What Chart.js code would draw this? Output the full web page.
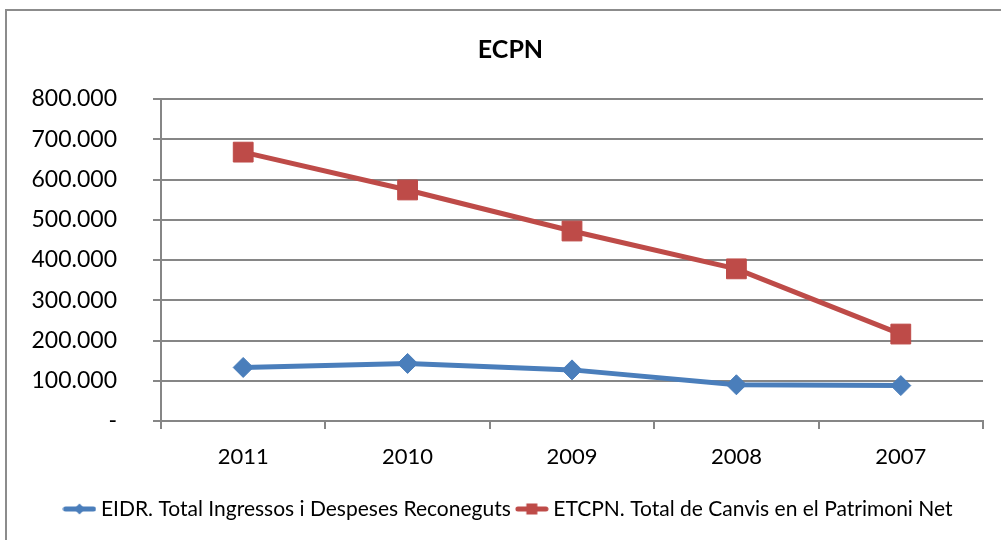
<!DOCTYPE html>
<html>
<head>
<meta charset="utf-8">
<script src="https://cdn.jsdelivr.net/npm/chart.js@4.4.1/dist/chart.umd.min.js"></script>
<style>
html,body{margin:0;padding:0;background:#fff;}
#wrap{position:relative;width:1001px;height:540px;}
</style>
</head>
<body>
<div id="wrap"><canvas id="c" width="1001" height="540"></canvas></div>
<script>
const categories = ['2011', '2010', '2009', '2008', '2007'];
const eidrValues = [133000, 143000, 127000, 90000, 88000];
const etcpnValues = [668000, 574000, 472000, 378000, 216000];
const seriesNames = ['EIDR. Total Ingressos i Despeses Reconeguts', 'ETCPN. Total de Canvis en el Patrimoni Net'];
const yTicks = [0, 100000, 200000, 300000, 400000, 500000, 600000, 700000, 800000];

const BLUE = '#4A7EBB';
const RED = '#BE4B48';
const FONT = 'Lato';

function legendIcon(color, shape) {
  const cv = document.createElement('canvas');
  cv.width = 34; cv.height = 14;
  const ctx = cv.getContext('2d');
  ctx.strokeStyle = color; ctx.lineWidth = 5; ctx.lineCap = 'round';
  ctx.beginPath(); ctx.moveTo(3, 7); ctx.lineTo(31, 7); ctx.stroke();
  ctx.fillStyle = color;
  if (shape === 'diamond') {
    ctx.beginPath(); ctx.moveTo(17, 1.5); ctx.lineTo(22.5, 7); ctx.lineTo(17, 12.5); ctx.lineTo(11.5, 7); ctx.closePath(); ctx.fill();
  } else {
    ctx.fillRect(11.5, 1.5, 11, 11);
  }
  return cv;
}
const icons = [legendIcon(BLUE, 'diamond'), legendIcon(RED, 'square')];

const borderPlugin = {
  id: 'outerBorder',
  afterLayout(chart) {
    const shift = 9;
    [chart.legend, chart.titleBlock].forEach(b => { if (b) { b.left += shift; b.right += shift; } });
  },
  beforeDraw(chart) {
    const ctx = chart.ctx;
    ctx.save();
    ctx.fillStyle = '#fff';
    ctx.fillRect(0, 0, chart.width, chart.height);
    ctx.strokeStyle = '#8c8c8c';
    ctx.lineWidth = 2;
    ctx.strokeRect(6, 10, 1010, 540);
    ctx.restore();
  }
};

new Chart(document.getElementById('c'), {
  type: 'line',
  data: {
    labels: categories,
    datasets: [
      {
        label: seriesNames[0], data: eidrValues,
        borderColor: BLUE, backgroundColor: BLUE, borderWidth: 5,
        pointStyle: 'rectRot', pointRadius: 10, pointHoverRadius: 10,
        pointBackgroundColor: BLUE, pointBorderColor: BLUE, pointBorderWidth: 1,
        tension: 0
      },
      {
        label: seriesNames[1], data: etcpnValues,
        borderColor: RED, backgroundColor: RED, borderWidth: 5,
        pointStyle: 'rect', pointRadius: 14, pointHoverRadius: 14,
        pointBackgroundColor: RED, pointBorderColor: RED, pointBorderWidth: 1,
        tension: 0
      }
    ]
  },
  options: {
    responsive: false,
    animation: false,
    layout: { padding: { left: 20, right: 18, top: 0, bottom: 10.5 } },
    plugins: {
      title: {
        display: true, text: 'ECPN', color: '#000',
        font: { family: FONT, size: 25, weight: 'bold', lineHeight: 1.2 },
        padding: { top: 35, bottom: 34 }
      },
      legend: {
        position: 'bottom',
        labels: {
          usePointStyle: true, pointStyleWidth: 22,
          color: '#000', font: { family: FONT, size: 21 }, padding: 10,
          generateLabels(chart) {
            return chart.data.datasets.map((ds, i) => ({
              text: ds.label, pointStyle: icons[i], fillStyle: ds.borderColor,
              strokeStyle: ds.borderColor, lineWidth: 0, hidden: false, datasetIndex: i
            }));
          }
        }
      },
      tooltip: { enabled: false }
    },
    scales: {
      x: {
        offset: true,
        afterFit(scale) { scale.height = 67.5; },
        grid: { display: true, drawOnChartArea: false, drawTicks: true, tickLength: 8, color: '#868686', lineWidth: 2, offset: true },
        border: { display: true, color: '#868686', width: 2 },
        ticks: { color: '#000', font: { family: FONT, size: 22 }, padding: 15 }
      },
      y: {
        min: 0, max: 800000,
        afterBuildTicks(scale) { scale.ticks = yTicks.map(v => ({ value: v })); },
        afterFit(scale) { scale.width = 141; },
        grid: { color: '#868686', lineWidth: 2, drawTicks: true, tickLength: 8 },
        border: { display: true, color: '#868686', width: 2 },
        ticks: {
          color: '#000', font: { family: FONT, size: 23 }, padding: 36,
          callback(v) { return v === 0 ? '-' : v.toLocaleString('de-DE'); }
        }
      }
    }
  },
  plugins: [borderPlugin]
});
</script>
</body>
</html>
